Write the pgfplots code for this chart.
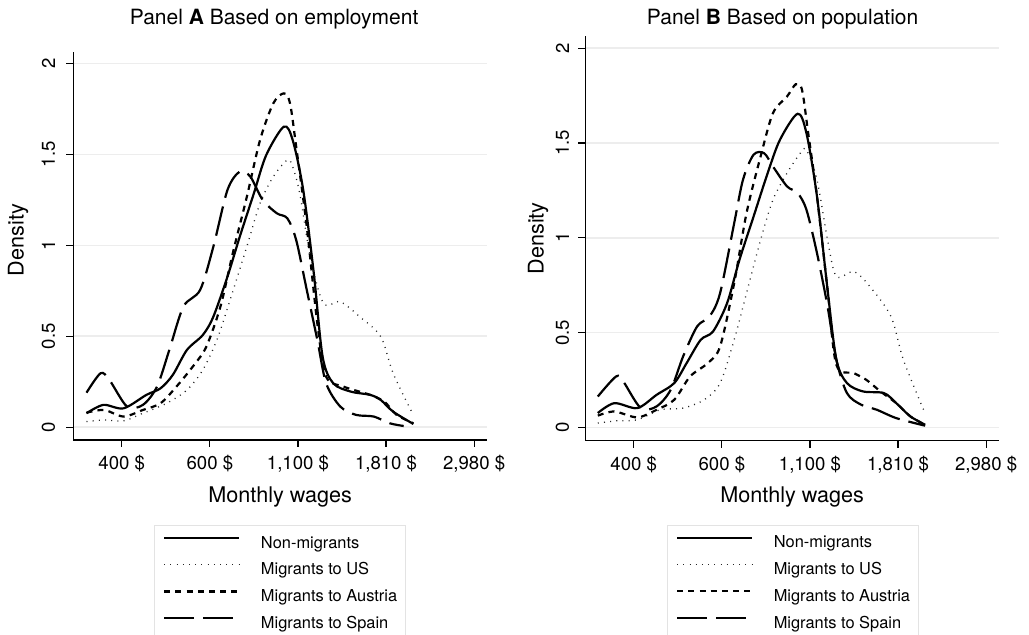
\documentclass[border=0pt]{standalone}
\usepackage{fontspec}
\setmainfont{TeX Gyre Heros}
\usepackage{pgfplots}
\pgfplotsset{compat=1.18}

\pgfplotsset{
  panel/.style={
    scale only axis, width=206.85pt,
    xmin=5.725, xmax=8.073, ymin=-0.07, ymax=2.064,
    axis x line=bottom, axis y line=left,
    axis line style={-, line width=0.6pt, black},
    xtick={6,6.5,7,7.5,8},
    xticklabels={400 \$, 600 \$, {1,100 \$}, {1,810 \$}, {2,980 \$}},
    ytick={0,0.5,1,1.5,2},
    tick align=outside, major tick length=3.5pt,
    tick style={line width=0.6pt, black},
    ymajorgrids, grid style={gray!14, line width=0.8pt},
    /pgf/number format/assume math mode=true,
    tick label style={font=\fontsize{9.3}{11}\selectfont},
    xticklabel style={yshift=-0.8pt},
    xlabel={Monthly wages},
    ylabel={Density},
    every axis x label/.style={at={(axis description cs:0.5,0)}, anchor=center, yshift=-28.3pt, font=\fontsize{10.8}{12}\selectfont},
    legend cell align=left,
    legend image code/.code={\draw[##1] (0pt,2.9pt) -- (37.5pt,2.9pt); \path (47.8pt,0pt);},
    legend style={anchor=north west, draw=gray!22, line width=0.5pt,
      font=\fontsize{8.2}{9.8}\selectfont, inner xsep=4.35pt, inner ysep=5.3pt,
      row sep=5.65pt, nodes={inner sep=0pt, text height=6pt, text depth=1.7pt}},
  },
  nonmig/.style={black, line width=1.1pt, smooth, tension=0.5},
  usmig/.style={black!85, line width=0.65pt, dash pattern=on 0.5pt off 2.6pt, smooth, tension=0.5},
  atmig/.style={black, line width=1.1pt, dash pattern=on 3pt off 2.6pt, smooth, tension=0.5},
  esmig/.style={black, line width=1.1pt, dash pattern=on 15pt off 4.5pt, smooth, tension=0.5},
}

\begin{document}
\begin{tikzpicture}

% ---------------- Panel A ----------------
\begin{axis}[panel, height=194.15pt,
  at={(36.65pt,-220pt)}, anchor=south west,
  title={Panel \textbf{A} Based on employment},
  title style={font=\fontsize{10.5}{12}\selectfont, at={(axis description cs:0.5,1)}, anchor=center, yshift=10.35pt, xshift=-3pt},
  every axis y label/.style={at={(axis description cs:0,0.5)}, xshift=-27.65pt, yshift=2.9pt, rotate=90, anchor=center, font=\fontsize{10.8}{12}\selectfont},
  yticklabel style={xshift=-2pt, rotate=90, anchor=south},
  legend style={at={(axis description cs:0.195,-0.219)}},
]
\addplot[nonmig] coordinates {
(5.80,0.077) (5.896,0.123) (6.01,0.104) (6.14,0.178) (6.22,0.214) (6.29,0.288)
(6.37,0.425) (6.46,0.507) (6.52,0.608) (6.60,0.828) (6.67,1.048) (6.75,1.286)
(6.82,1.496) (6.92,1.652) (6.97,1.579) (7.03,1.304) (7.09,0.846) (7.14,0.388)
(7.20,0.242) (7.30,0.196) (7.41,0.178) (7.47,0.150) (7.54,0.086) (7.655,0.018)};
\addlegendentry{Non-migrants}
\addplot[usmig] coordinates {
(5.80,0.031) (5.90,0.040) (6.01,0.035) (6.12,0.077) (6.255,0.132) (6.37,0.205)
(6.46,0.315) (6.54,0.480) (6.615,0.700) (6.71,0.993) (6.785,1.231) (6.86,1.377)
(6.94,1.469) (6.97,1.432) (7.01,1.286) (7.07,0.938) (7.145,0.681) (7.24,0.690)
(7.35,0.608) (7.47,0.498) (7.54,0.297) (7.645,0.086)};
\addlegendentry{Migrants to US}
\addplot[atmig] coordinates {
(5.80,0.080) (5.90,0.095) (6.01,0.059) (6.12,0.095) (6.22,0.132) (6.31,0.223)
(6.41,0.342) (6.48,0.443) (6.56,0.663) (6.63,0.956) (6.71,1.267) (6.785,1.579)
(6.86,1.780) (6.92,1.835) (6.955,1.780) (6.99,1.542) (7.05,1.103) (7.11,0.571)
(7.16,0.278) (7.26,0.223) (7.41,0.178) (7.49,0.141) (7.56,0.068) (7.655,0.022)};
\addlegendentry{Migrants to Austria}
\addplot[esmig] coordinates {
(5.80,0.190) (5.88,0.297) (5.93,0.260) (6.03,0.114) (6.12,0.123) (6.20,0.223)
(6.27,0.425) (6.35,0.663) (6.445,0.755) (6.52,0.993) (6.60,1.304) (6.67,1.405)
(6.73,1.377) (6.80,1.249) (6.88,1.176) (6.94,1.148) (6.99,1.029) (7.05,0.755)
(7.11,0.480) (7.16,0.242) (7.24,0.114) (7.33,0.068) (7.43,0.059) (7.52,0.022)
(7.60,0.007)};
\addlegendentry{Migrants to Spain}
\end{axis}

% ---------------- Panel B ----------------
\begin{axis}[panel, height=202.35pt,
  at={(292.65pt,-220.35pt)}, anchor=south west,
  title={Panel \textbf{B} Based on population},
  title style={font=\fontsize{10.5}{12}\selectfont, at={(axis description cs:0.5,1)}, anchor=center, yshift=2.5pt, xshift=-4.75pt},
  every axis y label/.style={at={(axis description cs:0,0.5)}, xshift=-23.65pt, rotate=90, anchor=center, font=\fontsize{10.8}{12}\selectfont},
  yticklabel style={xshift=-1pt, rotate=90, anchor=south},
  legend style={at={(axis description cs:0.197,-0.208)}},
]
\addplot[nonmig] coordinates {
(5.796,0.076) (5.89,0.128) (6.02,0.102) (6.13,0.172) (6.23,0.234) (6.30,0.339)
(6.38,0.462) (6.45,0.506) (6.53,0.656) (6.60,0.884) (6.68,1.112) (6.76,1.341)
(6.83,1.517) (6.93,1.654) (6.98,1.552) (7.04,1.218) (7.10,0.726) (7.15,0.357)
(7.21,0.234) (7.30,0.190) (7.42,0.181) (7.49,0.128) (7.57,0.058) (7.654,0.014)};
\addlegendentry{Non-migrants}
\addplot[usmig] coordinates {
(5.796,0.023) (5.905,0.035) (6.02,0.040) (6.15,0.093) (6.28,0.102) (6.40,0.146)
(6.49,0.234) (6.57,0.462) (6.64,0.708) (6.72,0.989) (6.79,1.200) (6.87,1.341)
(6.945,1.446) (6.98,1.464) (7.04,1.306) (7.10,0.989) (7.15,0.796) (7.25,0.822)
(7.34,0.743) (7.46,0.585) (7.53,0.357) (7.645,0.093)};
\addlegendentry{Migrants to US}
\addplot[atmig] coordinates {
(5.796,0.062) (5.89,0.084) (6.02,0.053) (6.13,0.093) (6.23,0.146) (6.32,0.269)
(6.42,0.339) (6.49,0.427) (6.57,0.761) (6.64,1.130) (6.72,1.429) (6.79,1.657)
(6.87,1.745) (6.92,1.810) (6.955,1.780) (6.99,1.552) (7.04,1.218) (7.10,0.726)
(7.15,0.330) (7.25,0.286) (7.32,0.251) (7.40,0.190) (7.49,0.128) (7.57,0.058)
(7.654,0.014)};
\addlegendentry{Migrants to Austria}
\addplot[esmig] coordinates {
(5.796,0.163) (5.90,0.269) (5.94,0.243) (6.04,0.102) (6.13,0.111) (6.21,0.199)
(6.28,0.374) (6.36,0.533) (6.43,0.585) (6.49,0.708) (6.57,1.077) (6.62,1.306)
(6.68,1.438) (6.74,1.446) (6.79,1.376) (6.87,1.271) (6.93,1.236) (6.98,1.148)
(7.04,0.919) (7.10,0.638) (7.15,0.357) (7.21,0.181) (7.29,0.120) (7.38,0.093)
(7.49,0.049) (7.654,0.009)};
\addlegendentry{Migrants to Spain}
\end{axis}

\pgfresetboundingbox
\path[use as bounding box] (0pt,0pt) rectangle (514.5pt,-317.5pt);
\end{tikzpicture}
\end{document}
